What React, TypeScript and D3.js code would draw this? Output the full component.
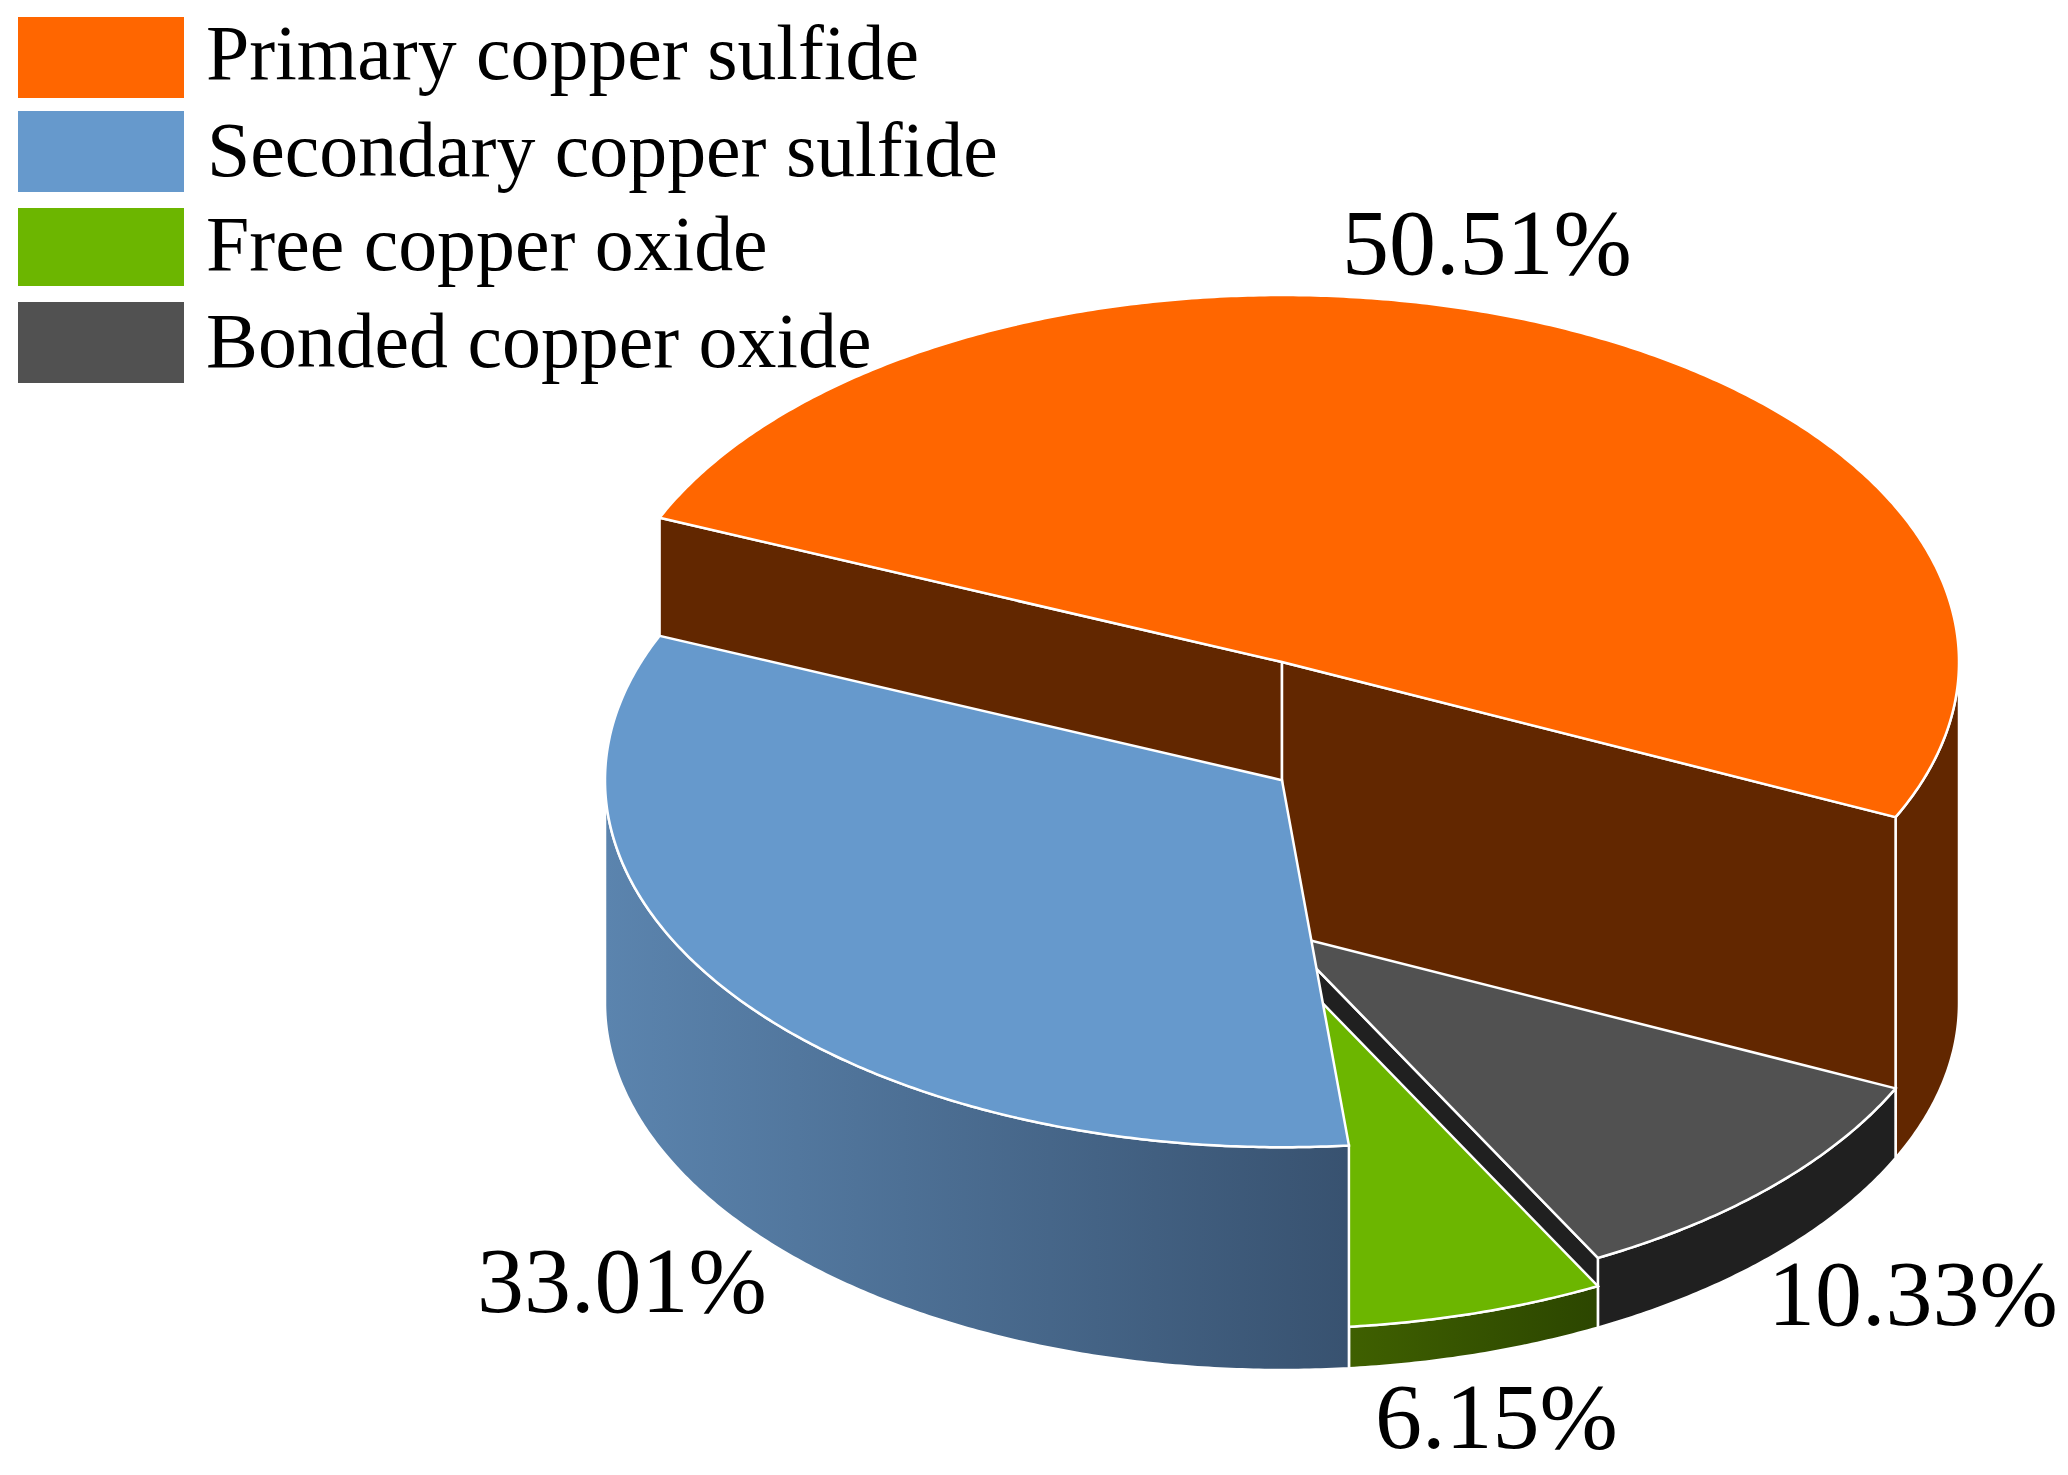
import React from 'react';
import * as d3 from 'd3';

// values
const categories = ['Primary copper sulfide', 'Secondary copper sulfide', 'Free copper oxide', 'Bonded copper oxide'];
const shares = [50.51, 33.01, 6.15, 10.33];
const shareLabels = ['50.51%', '33.01%', '6.15%', '10.33%'];
const topColors = ['#ff6600', '#6699cc', '#6cb600', '#515151'];
const wallLeft = ['#622700', '#5b84ae', '#3f6000', '#202020'];
const wallRight = ['#622700', '#385270', '#2c4600', '#202020'];

const width = 2068;
const height = 1475;
const cx = 1282;
const baseY = 1003;
const rx = 677;
const ry = 367;
const labelPos = [[1342, 274], [477, 1312], [1375, 1448], [1768, 1325]];
const legendTop = [17, 111, 208, 302];
const legendBottom = [98, 192, 286, 383];
const legendBase = [79, 176, 270, 367];
const legendX = [206, 207, 206, 206];
const drawOrder = [0, 3, 2, 1];

// slice height grows with the share, like the stepped pie in the original
const depth = d3.scaleLinear().domain([0, 100]).range([0, 675]);

// clockwise on screen from the orange/gray edge at 115deg: orange, blue, green, gray
const start = (115 * Math.PI) / 180;
const pie = d3.pie<number>().sort(null).startAngle(start).endAngle(start - 2 * Math.PI);
const arcs = pie(shares);

const px = (t: number) => cx + rx * Math.cos(t);
const py = (t: number, h: number) => baseY - h + ry * Math.sin(t);
const line = d3.line();

const arcPts = (t0: number, t1: number, h: number): [number, number][] => {
    const n = Math.max(2, Math.ceil(Math.abs(t1 - t0) * 120));
    return d3.range(n + 1).map(i => {
        const t = t0 + ((t1 - t0) * i) / n;
        return [px(t), py(t, h)] as [number, number];
    });
};

// the part of the outer wall facing the viewer (sin t > 0)
const frontRange = (t0: number, t1: number) => {
    const out: [number, number][] = [];
    [-2, 0, 2].forEach(k => {
        const a = Math.max(t0, k * Math.PI);
        const b = Math.min(t1, (k + 1) * Math.PI);
        if (b > a) out.push([a, b]);
    });
    return out;
};

const Slice = ({ i }: { i: number }) => {
    const arc = arcs[i];
    const t1 = arc.startAngle - Math.PI / 2;
    const t0 = arc.endAngle - Math.PI / 2;
    const h = depth(shares[i]);
    const topY = baseY - h;
    const solid = wallLeft[i] === wallRight[i];
    const wallFill = solid ? wallLeft[i] : `url(#wall${i})`;

    const sideFace = (t: number): [number, number][] => [
        [cx, topY], [px(t), py(t, h)], [px(t), py(t, 0)], [cx, baseY],
    ];
    // a radial face shows only when it turns towards the viewer
    const faces: number[] = [];
    if (Math.cos(t0) < 0) faces.push(t0);
    if (Math.cos(t1) > 0) faces.push(t1);

    return (
        <g stroke="#fff" strokeWidth={2.5} strokeLinejoin="miter">
            {frontRange(t0, t1).map(([a, b], k) => (
                <path key={k} fill={wallFill} d={line([...arcPts(a, b, h), ...arcPts(b, a, 0)]) + 'Z'} />
            ))}
            {faces.map((t, k) => (
                <path key={k} fill={wallLeft[i]} d={line(sideFace(t)) + 'Z'} />
            ))}
            <path fill={topColors[i]} d={line([[cx, topY], ...arcPts(t0, t1, h)]) + 'Z'} />
        </g>
    );
};

const App = () => (
    <svg width={width} height={height} style={{ position: 'absolute', left: 0, top: 0, background: '#fff' }}>
        <defs>
            {categories.map((c, i) => (
                <linearGradient key={c} id={`wall${i}`} gradientUnits="userSpaceOnUse"
                    x1={i === 2 ? 1348 : 605} x2={i === 2 ? 1598 : 1348} y1={0} y2={0}>
                    <stop offset="0%" stopColor={wallLeft[i]} />
                    <stop offset="100%" stopColor={wallRight[i]} />
                </linearGradient>
            ))}
        </defs>
        {drawOrder.map(i => <Slice key={i} i={i} />)}
        <g fontFamily="'Liberation Serif', serif" fill="#000">
            {categories.map((c, i) => (
                <g key={c}>
                    <rect x={18} y={legendTop[i]} width={166} height={legendBottom[i] - legendTop[i]} fill={topColors[i]} />
                    <text x={legendX[i]} y={legendBase[i]} fontSize={77.8}>{c}</text>
                </g>
            ))}
            {shareLabels.map((s, i) => (
                <text key={s} x={labelPos[i][0]} y={labelPos[i][1]} fontSize={94}>{s}</text>
            ))}
        </g>
    </svg>
);

export default App;
